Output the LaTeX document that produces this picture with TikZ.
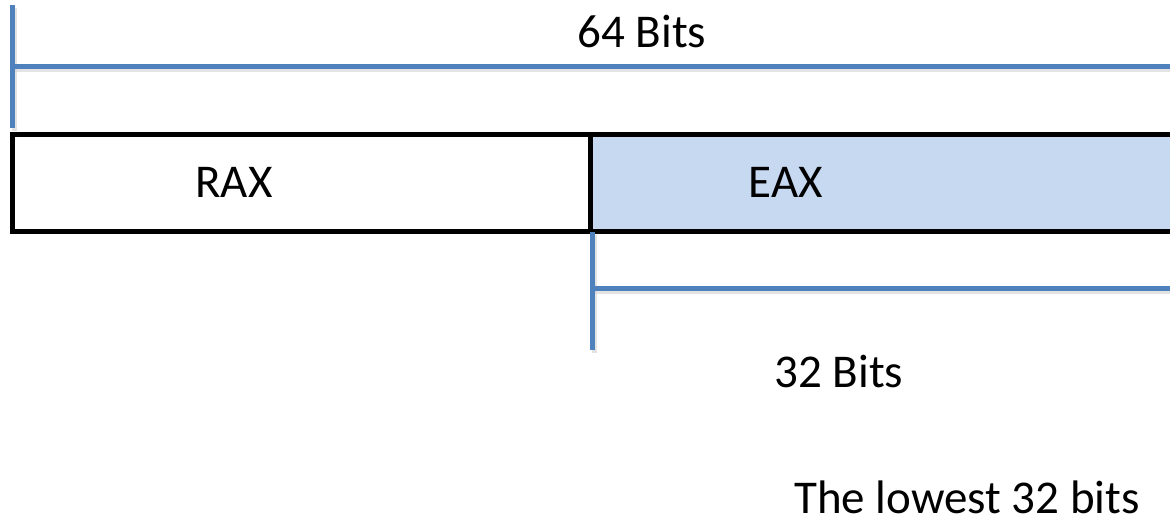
\documentclass[tikz,border=0pt]{standalone}
\usepackage{fontspec}
\setmainfont{Carlito}
\definecolor{dimblue}{HTML}{4F81BD}
\definecolor{lowfill}{HTML}{C6D9F1}
\begin{document}
\begin{tikzpicture}[x=1pt,y=-1pt,
  dimline/.style={draw=dimblue,line width=4.5pt},
  dimshadow/.style={draw=black!18,line width=5pt,opacity=0.6},
  regbox/.style={draw=black,line width=5pt,line join=miter},
  lbl/.style={font=\fontsize{47}{56}\selectfont,anchor=base,inner sep=0pt}]
  \useasboundingbox (0,0) rectangle (1170,524);
  \clip (0,0) rectangle (1170,524);
  % register halves
  \coordinate (raxTL) at (12.5,135);
  \coordinate (split) at (590.5,135);
  \coordinate (splitB) at (590.5,231);
  \coordinate (eaxBR) at (1185,231);
  \fill[lowfill] (split) rectangle (eaxBR);
  \draw[regbox] (raxTL) rectangle (splitB);
  \draw[regbox] (split) rectangle (eaxBR);
  % 64-bit dimension marker
  \coordinate (t64) at (12.5,5);
  \coordinate (b64) at (12.5,128);
  \coordinate (h64L) at (12.5,66.5);
  \coordinate (h64R) at (1180,66.5);
  \draw[dimshadow] ([shift={(2,3)}]h64L) -- ([shift={(2,3)}]h64R);
  \draw[dimshadow] ([shift={(2,3)}]t64) -- ([shift={(2,3)}]b64);
  \draw[dimline] (t64) -- (b64);
  \draw[dimline] (h64L) -- (h64R);
  % 32-bit dimension marker
  \coordinate (t32) at (592.5,232);
  \coordinate (b32) at (592.5,350);
  \coordinate (h32L) at (592.5,288.5);
  \coordinate (h32R) at (1180,288.5);
  \draw[dimshadow] ([shift={(2,3)}]h32L) -- ([shift={(2,3)}]h32R);
  \draw[dimshadow] ([shift={(2,3)}]t32) -- ([shift={(2,3)}]b32);
  \draw[dimline] (t32) -- (b32);
  \draw[dimline] (h32L) -- (h32R);
  % labels
  \node[lbl] (l64) at (642,48) {64 Bits};
  \node[lbl] (rax) at (234,197) {RAX};
  \node[lbl] (eax) at (786,197) {EAX};
  \node[lbl] (l32) at (839,387) {32 Bits};
  \node[lbl] (low) at (967,513) {The lowest 32 bits};
\end{tikzpicture}
\end{document}
